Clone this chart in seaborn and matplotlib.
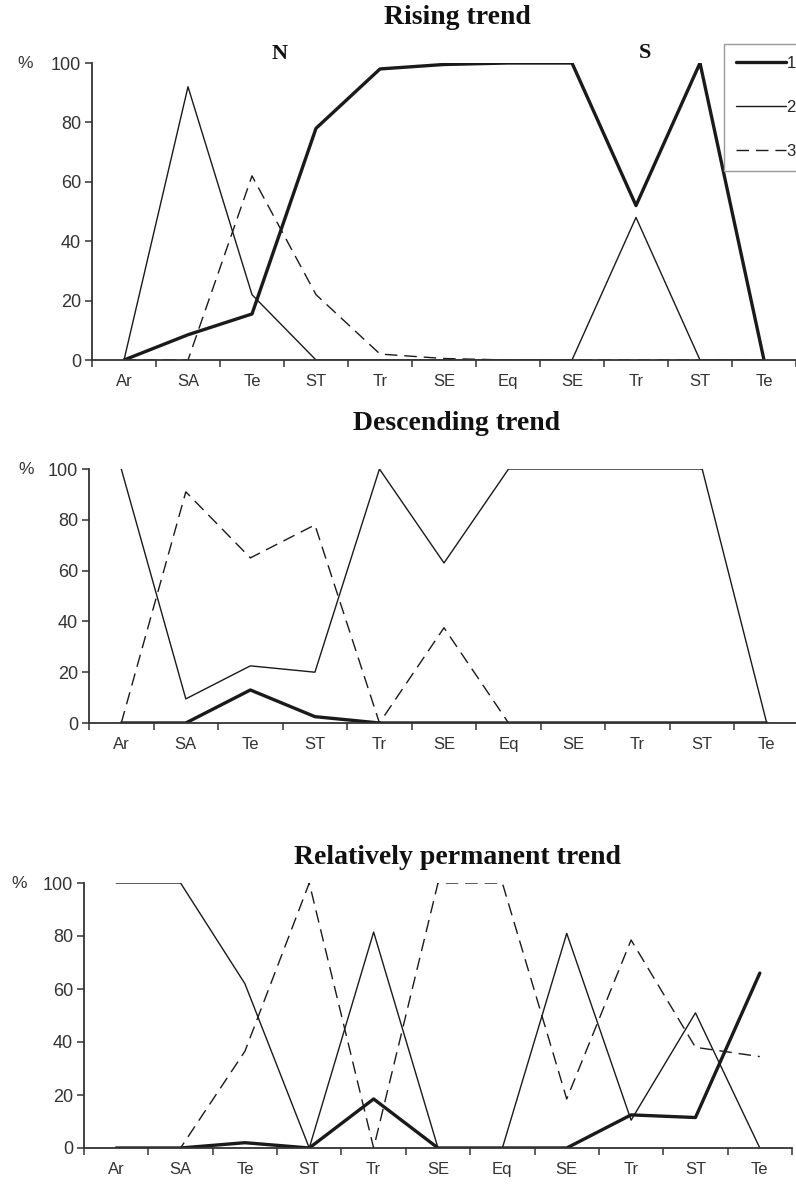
# Latitudinal trend profiles, three panels (rising / descending / relatively permanent)

import pandas as pd
import matplotlib.pyplot as plt
import seaborn as sns

# zones along the transect, N -> S
zones = ["Ar", "SA", "Te", "ST", "Tr", "SE", "Eq", "SE", "Tr", "ST", "Te"]
pos = list(range(len(zones)))

# Rising trend
rise_1 = [0, 8.5, 15.5, 78, 98, 99.5, 100, 100, 52, 100, 0]
rise_2 = [0, 92, 22, 0, 0, 0, 0, 0, 48, 0, 0]
rise_3 = [0, 0, 62, 22, 2, 0.5, 0, 0, 0, 0, 0]

# Descending trend
desc_1 = [0, 0, 13, 2.5, 0, 0, 0, 0, 0, 0, 0]
desc_2 = [100, 9.5, 22.5, 20, 100, 63, 100, 100, 100, 100, 0]
desc_3 = [0, 91, 65, 78, 0, 37.5, 0, 0, 0, 0, 0]

# Relatively permanent trend
perm_1 = [0, 0, 2, 0, 18.5, 0, 0, 0, 12.5, 11.5, 66]
perm_2 = [100, 100, 62, 0, 81.5, 0, 0, 81, 10.5, 51, 0]
perm_3 = [0, 0, 36.5, 100, 0, 100, 100, 18.5, 78.5, 38, 34.5]

titles = ["Rising trend", "Descending trend", "Relatively permanent trend"]
series_names = ["1", "2", "3"]

sns.set_theme(style="ticks")
plt.rcParams["font.family"] = ["Liberation Sans", "DejaVu Sans"]

W, H = 796, 1185
fig = plt.figure(figsize=(W / 100, H / 100), dpi=100)

# axes boxes in pixels: left, top, bottom, right
boxes = [(92, 63, 360, 796), (89, 469, 723, 799), (84, 883, 1148, 792)]
panels = [(rise_1, rise_2, rise_3), (desc_1, desc_2, desc_3), (perm_1, perm_2, perm_3)]
title_y = [18, 424, 857]
pct_x = [25, 26, 19]

styles = [dict(linewidth=2.4, linestyle="-"),
          dict(linewidth=1.0, linestyle="-"),
          dict(linewidth=1.0, linestyle=(0, (9, 5)))]

ink = "#1a1a1a"
axes = []
for (l, t, b, r), vals, ty, px, ttl in zip(boxes, panels, title_y, pct_x, titles):
    ax = fig.add_axes([l / W, 1 - b / H, (r - l) / W, (b - t) / H])
    for v, name, st in zip(vals, series_names, styles):
        df = pd.DataFrame({"zone": pos, "pct": v})
        sns.lineplot(data=df, x="zone", y="pct", ax=ax, color=ink,
                     label=name, legend=False, **st)
    ax.set_xlim(-0.5, len(zones) - 0.5)
    ax.set_ylim(0, 100)
    ax.set_yticks([0, 20, 40, 60, 80, 100])
    # ticks between zones, labels at zone centres
    ax.set_xticks([p - 0.5 for p in pos] + [len(zones) - 0.5])
    ax.set_xticklabels([])
    ax.set_xticks(pos, minor=True)
    ax.set_xticklabels(zones, minor=True)
    ax.tick_params(axis="x", which="minor", length=0, pad=10, labelsize=12, labelcolor="#333333")
    ax.tick_params(axis="x", which="major", length=5, width=1.1, color="#333333")
    ax.tick_params(axis="y", length=5, width=1.1, color="#333333", labelsize=13, labelcolor="#333333", pad=3)
    ax.set_xlabel("")
    ax.set_ylabel("")
    sns.despine(ax=ax)
    for s in ["left", "bottom"]:
        ax.spines[s].set_linewidth(1.3)
        ax.spines[s].set_color("#333333")
    ax.patch.set_alpha(0)
    fig.text(457 / W, 1 - ty / H, ttl, ha="center", va="center",
             fontsize=20, fontweight="bold", family=["Liberation Serif", "DejaVu Serif"], color="#111111")
    fig.text(px / W, 1 - t / H, "%", ha="center", va="center", fontsize=12.5, color="#333333")
    axes.append(ax)

# hemisphere markers on the top panel
fig.text(280 / W, 1 - 54 / H, "N", ha="center", va="center", fontsize=16,
         fontweight="bold", family=["Liberation Serif", "DejaVu Serif"], color="#111111")
fig.text(645 / W, 1 - 53 / H, "S", ha="center", va="center", fontsize=16,
         fontweight="bold", family=["Liberation Serif", "DejaVu Serif"], color="#111111")

# legend sits against the right edge like the original
h, lb = axes[0].get_legend_handles_labels()
leg = axes[0].legend(h, lb, loc="upper left", bbox_to_anchor=(724 / W, 1 - 44 / H),
                     bbox_transform=fig.transFigure, frameon=True, fancybox=False,
                     edgecolor="#999999", framealpha=1, fontsize=12, handlelength=3.0,
                     handletextpad=0.05, labelspacing=1.75, borderpad=0.7, borderaxespad=0)
leg.get_frame().set_linewidth(1.0)

fig.savefig("out.png", dpi=100)
